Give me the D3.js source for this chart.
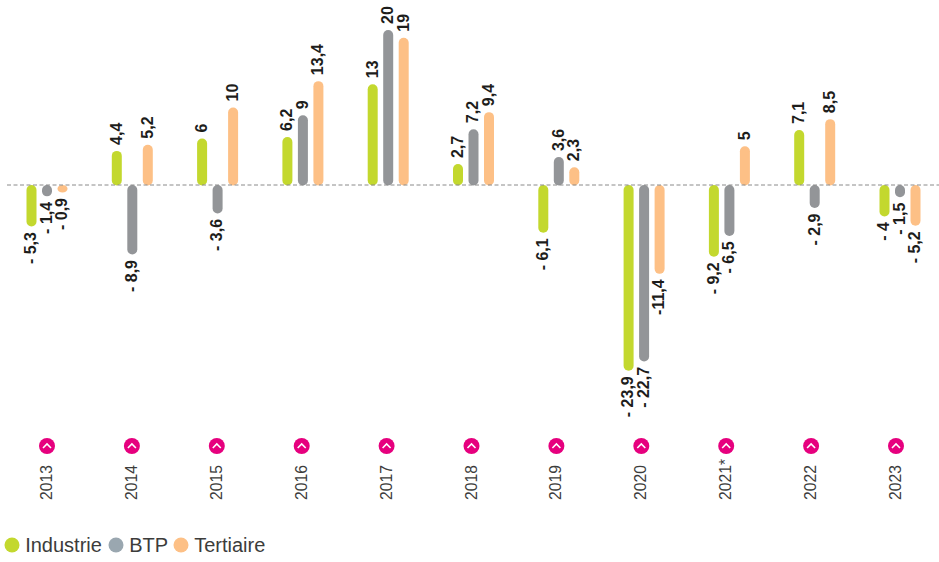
<!DOCTYPE html>
<html><head><meta charset="utf-8">
<script src="https://cdn.jsdelivr.net/npm/d3@7"></script>
<style>html,body{margin:0;padding:0;background:#fff}svg{display:block}text{font-family:"Liberation Sans",Arial,sans-serif}</style>
</head><body><div id="c"></div>
<script>
const years = ["2013","2014","2015","2016","2017","2018","2019","2020","2021*","2022","2023"];
const seriesNames = ["Industrie","BTP","Tertiaire"];
const seriesColors = ["#c3d82e","#939598","#fdc086"];
const legendDots = ["#c3d82e","#9aa7b0","#fdc086"];
const industrie = [-5.3,4.4,6,6.2,13,2.7,-6.1,-23.9,-9.2,7.1,-4];
const btp = [-1.4,-8.9,-3.6,9,20,7.2,3.6,-22.7,-6.5,-2.9,-1.5];
const tertiaire = [-0.9,5.2,10,13.4,19,9.4,2.3,-11.4,5,8.5,-5.2];
const industrieLabels = ["- 5,3","4,4","6","6,2","13","2,7","- 6,1","- 23,9","- 9,2","7,1","- 4"];
const btpLabels = ["- 1,4","- 8,9","- 3,6","9","20","7,2","3,6","- 22,7","- 6,5","- 2,9","- 1,5"];
const tertiaireLabels = ["- 0,9","5,2","10","13,4","19","9,4","2,3","-11,4","5","8,5","- 5,2"];

const W=939,H=562;
const svg=d3.select("#c").append("svg").attr("width",W).attr("height",H);
const x=d3.scalePoint().domain(years).range([47,900]);
const xTick=d3.scalePoint().domain(years).range([47,896]);
const off=d3.scalePoint().domain(seriesNames).range([-15.5,15.5]);
const y=d3.scaleLinear().domain([0,20]).range([185,30]);
const color=d3.scaleOrdinal(seriesNames,seriesColors);
const barW=10;

const rows=[];
[[industrie,industrieLabels],[btp,btpLabels],[tertiaire,tertiaireLabels]].forEach((pair,s)=>{
  pair[0].forEach((v,i)=>rows.push({year:years[i],series:seriesNames[s],v,label:pair[1][i]}));
});
const cx=d=>x(d.year)+off(d.series);

svg.selectAll("rect.bar").data(rows).join("rect").attr("class","bar")
  .attr("x",d=>cx(d)-barW/2).attr("width",barW)
  .attr("y",d=>Math.min(y(d.v),y(0)))
  .attr("height",d=>Math.abs(y(d.v)-y(0))+0.5)
  .attr("rx",barW/2)
  .attr("ry",d=>Math.min(barW/2,Math.abs(y(d.v)-y(0))/2))
  .attr("fill",d=>color(d.series));

svg.append("line").attr("x1",7).attr("x2",W).attr("y1",y(0)).attr("y2",y(0))
  .attr("stroke","#8a8a8a").attr("stroke-width",1).attr("stroke-dasharray","4 2.5");

svg.selectAll("text.val").data(rows).join("text").attr("class","val")
  .attr("transform",d=>{
    const py=d.v>=0?y(d.v)-6:y(d.v)+6;
    return `translate(${cx(d)+4.8},${py}) rotate(-90) scale(0.97,1)`;
  })
  .attr("text-anchor",d=>d.v>=0?"start":"end")
  .attr("font-size",16.5).attr("font-weight","bold").attr("fill","#1d1d1b")
  .text(d=>d.label);

const tick=svg.selectAll("g.tick").data(years).join("g").attr("class","tick")
  .attr("transform",d=>`translate(${xTick(d)},0)`);
tick.append("circle").attr("cy",446).attr("r",8).attr("fill","#e6007e");
tick.append("path").attr("d","M-4,448 L0,444 L4,448").attr("fill","none").attr("stroke","#fff").attr("stroke-width",1.6);
tick.append("text").attr("transform","translate(5,500) rotate(-90)")
  .attr("font-size",15.7).attr("fill","#3c3c3b").text(d=>d);

const legendX=d3.scaleOrdinal(seriesNames,[12,116,181]);
const lg=svg.selectAll("g.lg").data(seriesNames).join("g").attr("class","lg")
  .attr("transform",d=>`translate(${legendX(d)},545)`);
lg.append("circle").attr("r",7.5).attr("fill",(d,i)=>legendDots[i]);
lg.append("text").attr("x",13.2).attr("y",6.5).attr("font-size",20).attr("fill","#3c3c3b").text(d=>d);
</script></body></html>
